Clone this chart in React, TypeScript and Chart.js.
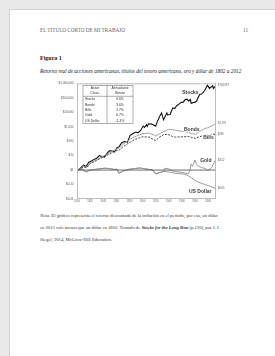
import React, { useEffect, useRef } from "react";
import { Chart, registerables } from "chart.js";
Chart.register(...registerables);

const stockYears = [1802,1806,1810,1814,1818,1822,1826,1830,1834,1837,1842,1846,1850,1854,1857,1861,1864,1868,1872,1877,1881,1885,1890,1893,1897,1901,1903,1906,1907,1909,1914,1917,1920,1922,1926,1929,1932,1937,1938,1942,1946,1949,1952,1956,1959,1962,1965,1968,1970,1973,1974,1980,1982,1987,1990,1995,1999,2002,2007,2008,2012];
const stockValues = [1,1.5,2.2,1.8,3.5,4.2,5.5,6.5,10,9,8,15,22,20,18,35,40,75,95,85,250,320,420,380,550,1100,900,1400,1050,1600,1500,1300,1100,2000,5000,9000,3000,9000,6500,7000,20000,18000,28000,38000,48000,50000,75000,80000,60000,75000,42000,50000,55000,170000,180000,330000,750000,450000,680000,430000,704997];

const bondYears = [1802,1810,1815,1820,1830,1840,1850,1860,1865,1870,1880,1890,1900,1910,1918,1920,1930,1940,1946,1950,1960,1970,1975,1981,1985,1990,1995,2000,2005,2008,2012];
const bondValues = [1,1.8,1.6,3,5.5,9,16,28,35,60,130,220,330,360,260,230,420,650,620,560,480,420,330,300,420,550,750,850,1100,1300,1778];

const billYears = [1802,1810,1815,1820,1830,1840,1850,1860,1865,1870,1880,1890,1900,1910,1918,1920,1925,1932,1938,1946,1950,1960,1970,1975,1981,1985,1990,2000,2007,2012];
const billValues = [1,1.6,1.5,2.8,4.5,8,13,22,25,40,80,140,200,190,120,110,180,280,300,210,190,200,210,180,155,190,220,270,310,281];

const goldYears = [1802,1808,1814,1820,1830,1843,1850,1857,1861,1864,1870,1880,1890,1896,1900,1910,1915,1920,1925,1932,1934,1940,1946,1950,1960,1970,1972,1974,1976,1980,1982,1985,1990,1996,1999,2002,2005,2008,2011,2012];
const goldValues = [1,1.1,0.75,1,1.15,1.35,1.25,1.1,1.15,0.6,0.85,1.15,1.3,1.4,1.3,1.1,1.05,0.55,0.65,0.8,1.35,1.2,0.85,0.8,0.7,0.55,0.9,2.5,1.8,4.9,2.6,1.9,1.5,1.3,0.95,1.1,1.4,2.6,4.8,4.52];

const dollarYears = [1802,1808,1814,1820,1830,1843,1850,1857,1861,1864,1870,1880,1890,1896,1900,1910,1915,1920,1925,1932,1940,1946,1950,1960,1965,1970,1975,1980,1985,1990,1995,2000,2005,2012];
const dollarValues = [1,1.1,0.75,1,1.15,1.35,1.25,1.1,1.15,0.6,0.85,1.15,1.3,1.4,1.3,1.1,1.05,0.55,0.65,0.8,0.75,0.65,0.6,0.55,0.5,0.4,0.28,0.19,0.15,0.12,0.1,0.085,0.07,0.052];

const refYears = [1802, 2012];
const refValues = [1, 1];

const yTicks = [0.01, 0.1, 1, 10, 100, 1000, 10000, 100000, 1000000];
const yTickLabels = ["$0.01", "$0.10", "$1", "$10", "$100", "$1,000", "$10,000", "$100,000", "$1,000,000"];
const xTicks = [1800, 1820, 1840, 1860, 1880, 1900, 1920, 1940, 1960, 1980, 2000];

const assetClasses = ["Stocks", "Bonds", "Bills", "Gold", "US Dollar"];
const annualReturns = ["6.6%", "3.6%", "2.7%", "0.7%", "-1.4%"];
const endLabels = ["$704,997", "$1,778", "$281", "$4.52", "$0.05"];
const seriesNames = ["Stocks", "Bonds", "Bills", "Gold", "US Dollar"];
const nameYears = [1973, 1975, 2000.5, 1996.5, 1988];
const nameValues = [230000, 650, 170, 4.4, 0.032];

const SANS = '"Liberation Sans", Arial, sans-serif';
const SERIF = '"Liberation Serif", "Times New Roman", serif';

const pts = (xs: number[], ys: number[]) => xs.map((x, i) => ({ x, y: ys[i] }));

const overlay = {
  id: "overlay",
  afterDraw(chart: any) {
    const { ctx, chartArea: a, scales } = chart;
    const x = scales.x;
    const y = scales.y;
    ctx.save();
    ctx.strokeStyle = "#bdbdbd";
    ctx.lineWidth = 1;
    ctx.strokeRect(a.left + 0.5, a.top + 0.5, a.right - a.left - 1, a.bottom - a.top - 1);

    const lastVals = [stockValues, bondValues, billValues, goldValues, dollarValues].map((v) => v[v.length - 1]);
    ctx.font = `2.6px ${SANS}`;
    ctx.fillStyle = "#555";
    ctx.textAlign = "left";
    ctx.textBaseline = "middle";
    lastVals.forEach((v, i) => {
      ctx.fillText(endLabels[i], a.right + 2, y.getPixelForValue(v));
    });

    ctx.font = `bold 5px ${SANS}`;
    ctx.textAlign = "center";
    seriesNames.forEach((n, i) => {
      const px = x.getPixelForValue(nameYears[i]);
      const py = y.getPixelForValue(nameValues[i]);
      ctx.lineWidth = 1.6;
      ctx.strokeStyle = "#fff";
      ctx.strokeText(n, px, py);
      ctx.fillStyle = "#3a3a3a";
      ctx.fillText(n, px, py);
    });

    const L = a.left + 6, T = a.top + 2, W = 50, H = 38, C = 24, HH = 11;
    ctx.fillStyle = "#fff";
    ctx.fillRect(L, T, W, H);
    ctx.strokeStyle = "#777";
    ctx.lineWidth = 0.6;
    ctx.strokeRect(L, T, W, H);
    ctx.beginPath();
    ctx.moveTo(L, T + HH); ctx.lineTo(L + W, T + HH);
    ctx.moveTo(L + C, T); ctx.lineTo(L + C, T + H);
    ctx.stroke();
    ctx.fillStyle = "#333";
    ctx.font = `3.4px ${SANS}`;
    ctx.textAlign = "center";
    ctx.fillText("Asset", L + C / 2, T + 2.6);
    ctx.fillText("Class.", L + C / 2, T + 7.3);
    ctx.fillText("Annualized", L + C + (W - C) / 2, T + 2.6);
    ctx.fillText("Return", L + C + (W - C) / 2, T + 7.3);
    assetClasses.forEach((n, i) => {
      const ry = T + HH + 3 + i * 5.35;
      ctx.textAlign = "left";
      ctx.fillText(n, L + 2, ry);
      ctx.textAlign = "center";
      ctx.fillText(annualReturns[i], L + C + (W - C) / 2, ry);
    });
    ctx.restore();
  },
};

function ChartView() {
  const ref = useRef<HTMLCanvasElement>(null);
  useEffect(() => {
    if (!ref.current) return;
    const chart = new Chart(ref.current, {
      type: "line",
      data: {
        datasets: [
          { label: "ref", data: pts(refYears, refValues), borderColor: "#4a4a4a", borderWidth: 0.8 },
          { label: "US Dollar", data: pts(dollarYears, dollarValues), borderColor: "#8c8c8c", borderWidth: 0.9 },
          { label: "Gold", data: pts(goldYears, goldValues), borderColor: "#8f8f8f", borderWidth: 0.9 },
          { label: "Bills", data: pts(billYears, billValues), borderColor: "#333", borderWidth: 0.9, borderDash: [2, 1.3] },
          { label: "Bonds", data: pts(bondYears, bondValues), borderColor: "#9a9a9a", borderWidth: 0.9 },
          { label: "Stocks", data: pts(stockYears, stockValues), borderColor: "#111", borderWidth: 1.1 },
        ],
      },
      options: {
        animation: false,
        responsive: false,
        devicePixelRatio: 1,
        elements: { point: { radius: 0 }, line: { tension: 0 } },
        layout: { padding: { top: 5, right: 36, left: 0, bottom: 0 } },
        plugins: { legend: { display: false }, tooltip: { enabled: false } },
        scales: {
          x: {
            type: "linear",
            min: 1800,
            max: 2012,
            afterBuildTicks: (ax: any) => { ax.ticks = xTicks.map((v) => ({ value: v })); },
            afterFit: (s: any) => { s.height = 7; },
            grid: { display: false, drawTicks: false },
            border: { display: false },
            ticks: { font: { size: 2.6, family: SANS }, color: "#666", padding: 1, maxRotation: 0, autoSkip: false, callback: (v: any) => String(v) },
          },
          y: {
            type: "logarithmic",
            min: 0.01,
            max: 1000000,
            afterBuildTicks: (ax: any) => { ax.ticks = yTicks.map((v) => ({ value: v })); },
            afterFit: (s: any) => { s.width = 37; },
            grid: { display: false, drawTicks: false },
            border: { display: false },
            ticks: { font: { size: 3, family: SANS }, color: "#555", padding: 3.5, autoSkip: false, callback: (_v: any, i: number) => yTickLabels[i] },
          },
        },
      },
      plugins: [overlay],
    } as any);
    return () => chart.destroy();
  }, []);
  return <canvas ref={ref} width={212} height={128} style={{ position: "absolute", left: 40, top: 78, width: 212, height: 128 }} />;
}

const txt = (top: number, left: number, size: number, extra: React.CSSProperties = {}): React.CSSProperties => ({
  position: "absolute", top, left, fontSize: size, lineHeight: "8px", whiteSpace: "nowrap", fontFamily: SERIF, color: "#333", ...extra,
});

export default function App() {
  return (
    <div style={{ position: "fixed", left: 0, top: 0, width: 275, height: 356, background: "#e8e8e8", overflow: "hidden" }}>
      <div style={{ position: "absolute", left: 9, top: 9, width: 280, height: 360, background: "#fff", borderLeft: "1px solid #d2d2d2", borderTop: "1px solid #d2d2d2" }} />
      <div style={txt(26, 40, 5.2, { color: "#666" })}>EL TITULO CORTO DE MI TRABAJO</div>
      <div style={txt(26, 243, 5.2, { color: "#666" })}>11</div>
      <div style={txt(54, 40, 6, { fontWeight: "bold", color: "#222" })}>Figura 1</div>
      <div style={txt(67, 40, 5.3, { fontStyle: "italic", color: "#222" })}>Retorno real de acciones americanas, títulos del tesoro americano, oro y dólar de 1802 a 2012</div>
      <ChartView />
      <div style={txt(211.5, 40, 4.65)}><i>Nota.</i> El gráfico representa el retorno descontado de la inflación en el período, por eso, un dólar</div>
      <div style={txt(223.5, 40, 4.65)}>en 2012 vale menos que un dólar en 1802. Tomado de <b><i>Stocks for the Long Run</i></b> (p.130), por J. J.</div>
      <div style={txt(235.5, 40, 4.65)}>Siegel, 2014, McGraw-Hill Education.</div>
    </div>
  );
}
